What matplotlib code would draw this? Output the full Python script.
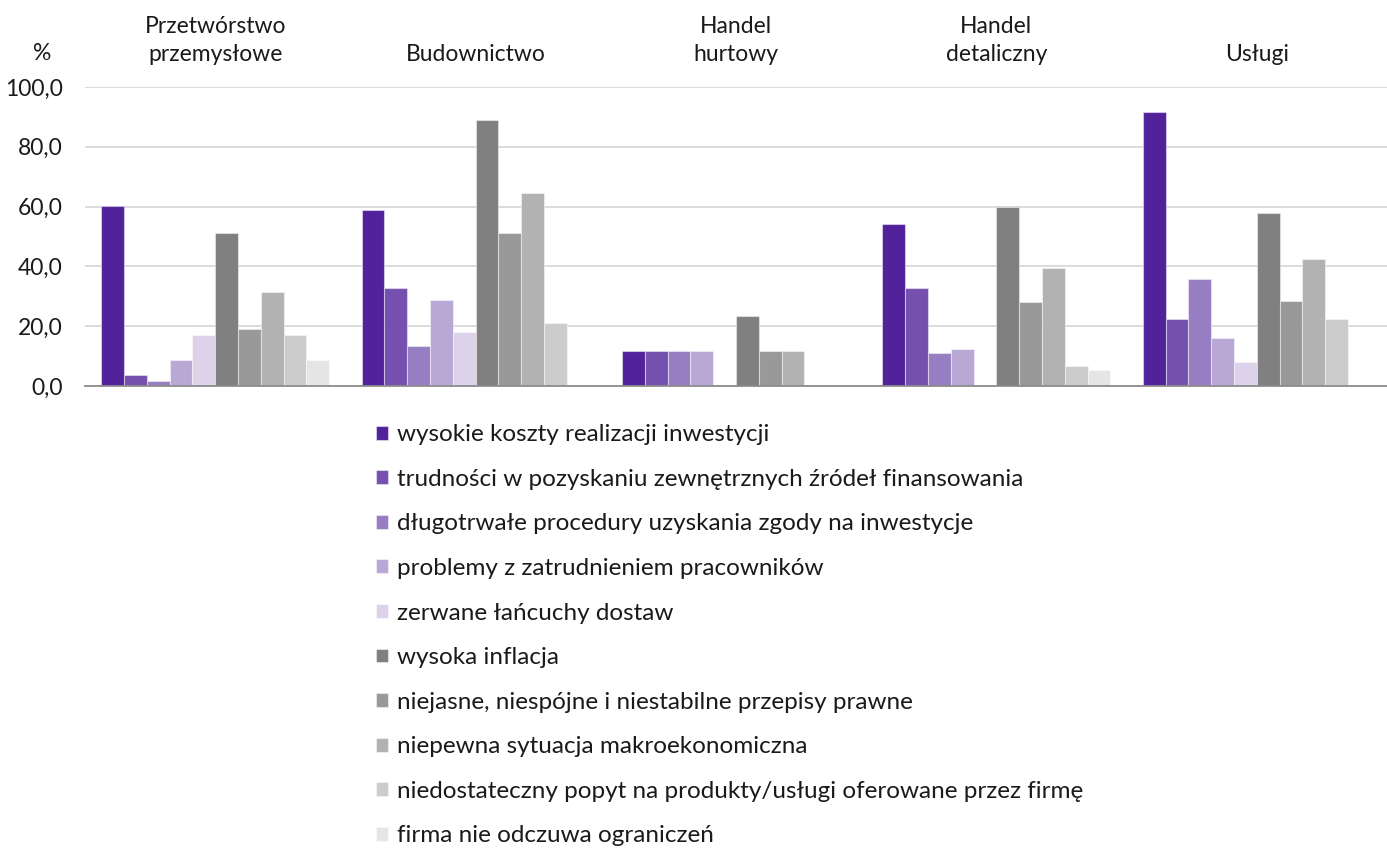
import numpy as np
import matplotlib
matplotlib.use("Agg")
import matplotlib.pyplot as plt
from matplotlib.ticker import FuncFormatter

plt.rcParams['font.family'] = ['Lato', 'DejaVu Sans']

categories = ['Przetwórstwo\nprzemysłowe', 'Budownictwo', 'Handel\nhurtowy',
              'Handel\ndetaliczny', 'Usługi']

series = ['wysokie koszty realizacji inwestycji',
          'trudności w pozyskaniu zewnętrznych źródeł finansowania',
          'długotrwałe procedury uzyskania zgody na inwestycje',
          'problemy z zatrudnieniem pracowników',
          'zerwane łańcuchy dostaw',
          'wysoka inflacja',
          'niejasne, niespójne i niestabilne przepisy prawne',
          'niepewna sytuacja makroekonomiczna',
          'niedostateczny popyt na produkty/usługi oferowane przez firmę',
          'firma nie odczuwa ograniczeń']

# values[series][category]
values = [
    [60.3, 58.9, 11.8, 54.1, 91.6],
    [3.5, 32.8, 11.8, 32.7, 22.3],
    [1.8, 13.3, 11.8, 11.1, 35.6],
    [8.7, 28.8, 11.8, 12.5, 16.1],
    [16.9, 18.2, 0.0, 0.0, 7.9],
    [51.3, 89.1, 23.5, 59.9, 57.9],
    [18.9, 51.2, 11.8, 28.2, 28.3],
    [31.3, 64.6, 11.8, 39.6, 42.6],
    [16.9, 21.0, 0.0, 6.6, 22.3],
    [8.7, 0.0, 0.0, 5.5, 0.0],
]

colors = ['#52229a', '#7650ae', '#977dc1', '#b9a7d6', '#dcd3ea',
          '#808080', '#999999', '#b2b2b2', '#cccccc', '#e5e5e5']

fig = plt.figure(figsize=(13.87, 8.52), dpi=100)
ax = fig.add_axes([0.0613, 0.547, 0.9387, 0.351])

n = len(series)
x = np.arange(len(categories))
group_w = 0.876
bw = group_w / n

handles = []
for i in range(n):
    pos = x - group_w / 2 + bw * (i + 0.5)
    b = ax.bar(pos, values[i], width=bw, color=colors[i],
               edgecolor=(1, 1, 1, 0.45), linewidth=0.8, zorder=3,
               label=series[i])
    handles.append(b)

ax.set_xlim(-0.5, len(categories) - 0.5)
ax.set_ylim(0, 100)
ax.set_yticks(np.arange(0, 101, 20))
ax.yaxis.set_major_formatter(FuncFormatter(lambda v, p: f'{v:.1f}'.replace('.', ',')))
ax.grid(axis='y', color='#d9d9d9', linewidth=1.3, zorder=0)
ax.tick_params(axis='y', length=0, pad=16, labelsize=16.5, colors='#1a1a1a')

# category names sit above the plot
ax.xaxis.set_ticks_position('top')
ax.set_xticks(x)
ax.set_xticklabels(categories)
ax.tick_params(axis='x', length=0, pad=16, labelsize=16.5, colors='#1a1a1a')
for lab in ax.get_xticklabels():
    lab.set_linespacing(1.4)

for s in ['top', 'right', 'left']:
    ax.spines[s].set_visible(False)
ax.spines['bottom'].set_color('#8c8c8c')
ax.spines['bottom'].set_linewidth(1.3)
ax.spines['bottom'].set_zorder(4)

ax.text(-0.04, 1.075, '%', transform=ax.transAxes, fontsize=16.5,
        ha='left', va='bottom', color='#1a1a1a')

fig.legend(handles=handles, loc='upper left', bbox_to_anchor=(0.271, 0.502),
           frameon=False, fontsize=17.5, handlelength=0.5, handleheight=0.5,
           handletextpad=0.35, labelspacing=0.97, borderaxespad=0,
           borderpad=0, labelcolor='#1a1a1a')

fig.savefig('out.png', dpi=100)
